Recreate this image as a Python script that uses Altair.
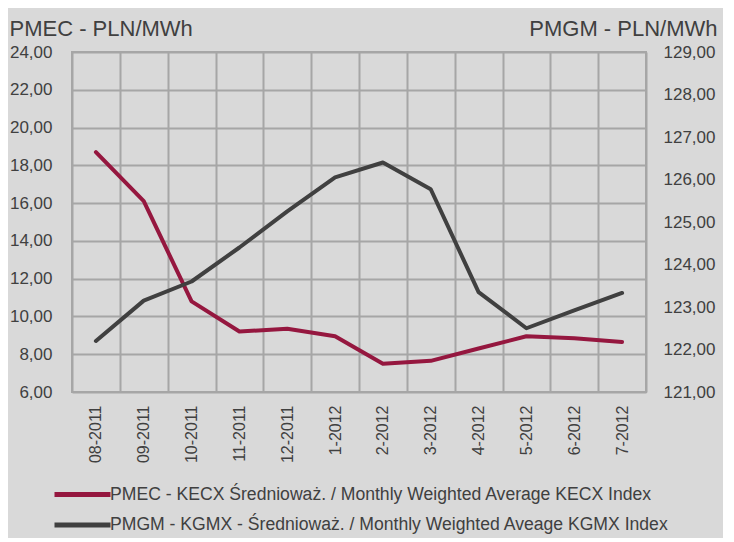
import altair as alt
import pandas as pd

months = ["08-2011", "09-2011", "10-2011", "11-2011", "12-2011", "1-2012",
          "2-2012", "3-2012", "4-2012", "5-2012", "6-2012", "7-2012"]
pmec = [18.7, 16.1, 10.8, 9.2, 9.35, 8.95, 7.5, 7.65, 8.3, 8.95, 8.85, 8.65]
pmgm = [122.2, 123.15, 123.6, 124.4, 125.25, 126.05, 126.4, 125.77, 123.35, 122.5, 122.92, 123.33]

s1 = "PMEC - KECX Średnioważ. / Monthly Weighted Average KECX Index"
s2 = "PMGM - KGMX - Średnioważ. / Monthly Weighted Aveage KGMX Index"
series_names = [s1, s2]
series_colors = ["#95173F", "#404040"]

left_ticks = [6, 8, 10, 12, 14, 16, 18, 20, 22, 24]
right_ticks = [121, 122, 123, 124, 125, 126, 127, 128, 129]

df1 = pd.DataFrame({"month": months, "value": pmec, "series": s1})
df2 = pd.DataFrame({"month": months, "value": pmgm, "series": s2})

FONT = "Liberation Sans"
TXT = "#404040"
GRID = "#A6A6A6"

x_enc = alt.X(
    "month:N", sort=months, title=None,
    scale=alt.Scale(type="band", paddingInner=0, paddingOuter=0),
    axis=alt.Axis(labelAngle=-90, labelFontSize=16, labelColor=TXT, labelFont=FONT,
                  labelPadding=13, ticks=False, tickSize=0, domain=False,
                  grid=True, gridColor=GRID, gridWidth=2, tickBand="extent"),
)

color_enc = alt.Color(
    "series:N",
    scale=alt.Scale(domain=series_names, range=series_colors),
    legend=alt.Legend(
        title=None, orient="none", legendX=1, legendY=433, direction="vertical",
        symbolType="M-4,0H4", symbolSize=196, symbolStrokeWidth=5,
        labelFontSize=17.6, labelFont=FONT, labelColor=TXT, labelLimit=800,
        labelOffset=18, rowPadding=9.5, padding=0,
    ),
)

fmt = "replace(format(datum.value, '.2f'), '.', ',')"

left = alt.Chart(df1).mark_line(strokeWidth=4, strokeJoin="round", strokeCap="round").encode(
    x=x_enc,
    y=alt.Y("value:Q", scale=alt.Scale(domain=[6, 24], nice=False, zero=False),
            axis=alt.Axis(values=left_ticks, labelExpr=fmt, labelFontSize=17, labelFont=FONT,
                          labelColor=TXT, labelPadding=20, ticks=False, tickSize=0,
                          domain=False, grid=True, gridColor=GRID, gridWidth=2,
                          title="PMEC - PLN/MWh", titleAngle=0, titleAlign="left",
                          titleBaseline="alphabetic", titleX=-63, titleY=-17,
                          titleFontSize=22, titleFontWeight="normal", titleFont=FONT,
                          titleColor=TXT)),
    color=color_enc,
)

right = alt.Chart(df2).mark_line(strokeWidth=4, strokeJoin="round", strokeCap="round").encode(
    x=x_enc,
    y=alt.Y("value:Q", scale=alt.Scale(domain=[121, 129], nice=False, zero=False),
            axis=alt.Axis(orient="right", values=right_ticks, labelExpr=fmt, labelFontSize=17,
                          labelFont=FONT, labelColor=TXT, labelPadding=17, ticks=False,
                          tickSize=0, domain=False, grid=False,
                          title="PMGM - PLN/MWh", titleAngle=0, titleAlign="right",
                          titleBaseline="alphabetic", titleX=71, titleY=-17,
                          titleFontSize=22, titleFontWeight="normal", titleFont=FONT,
                          titleColor=TXT)),
    color=color_enc,
)

chart = alt.layer(left, right).resolve_scale(y="independent", color="shared").properties(
    width=574, height=340,
    background="#D9D9D9",
    autosize=alt.AutoSizeParams(type="none"),
    padding={"left": 64, "top": 44, "right": 77, "bottom": 146},
).configure_view(stroke=GRID, strokeWidth=2)

chart.save("out.html", embed_options={"renderer": "svg", "actions": False})
